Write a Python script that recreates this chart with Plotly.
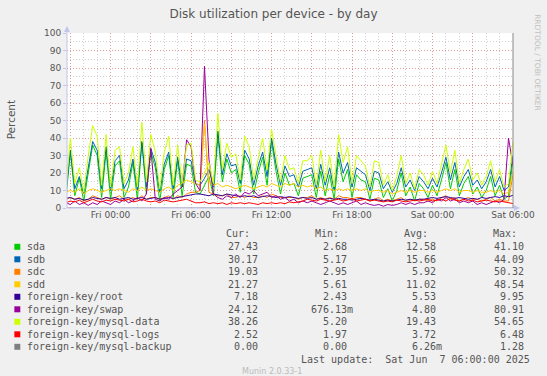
import plotly.graph_objects as go
import pandas as pd

# ---------------- data (20-minute samples, Thu 20:40 -> Sat 06:00) ----------------
times = pd.date_range("2025-06-05 20:40", periods=101, freq="20min")

sda = [5, 32, 7, 17, 4, 20, 36, 30, 6, 32,
       5, 24, 27, 6, 12, 26, 5, 37, 8, 32,
       23, 4, 22, 30, 6, 27, 7, 25, 24, 9,
       8, 13, 18, 7, 41, 15, 28, 20, 22, 9,
       30, 25, 8, 20, 29, 13, 38, 21, 8, 20,
       13, 14, 7, 17, 18, 19, 6, 21, 7, 19,
       5, 28, 15, 22, 6, 19, 16, 15, 5, 17,
       16, 6, 11, 4, 10, 20, 7, 12, 4, 14,
       11, 6, 13, 7, 16, 26, 11, 22, 7, 14,
       18, 8, 12, 6, 10, 18, 7, 13, 5, 7,
       27.43]
sdb = [9, 33, 11, 18, 8, 24, 38, 33, 11, 35,
       10, 27, 30, 11, 16, 28, 10, 38, 12, 34,
       26, 9, 25, 32, 11, 29, 12, 28, 27, 14,
       13, 17, 22, 12, 44, 19, 31, 24, 25, 14,
       33, 28, 13, 24, 32, 18, 40, 25, 13, 24,
       18, 19, 12, 21, 22, 23, 11, 25, 13, 23,
       10, 32, 20, 26, 12, 23, 21, 19, 10, 21,
       20, 11, 15, 9, 14, 23, 12, 16, 10, 18,
       15, 11, 17, 12, 20, 29, 16, 26, 12, 18,
       22, 13, 16, 11, 15, 22, 12, 18, 10, 12,
       30.17]
sdc = [5, 6, 5, 6, 4, 5, 7, 6, 5, 6,
       5, 6, 7, 5, 5, 6, 5, 7, 5, 6,
       6, 5, 6, 7, 5, 7, 6, 8, 9, 9,
       10, 50, 9, 8, 7, 7, 8, 6, 6, 7,
       6, 7, 6, 6, 7, 6, 8, 7, 6, 6,
       6, 6, 5, 6, 6, 7, 5, 6, 5, 6,
       5, 7, 6, 6, 5, 6, 6, 5, 4, 5,
       6, 4, 5, 4, 5, 6, 4, 5, 4, 5,
       5, 4, 5, 4, 6, 7, 5, 6, 4, 5,
       6, 5, 5, 4, 5, 6, 4, 5, 4, 4,
       19.03]
sdd = [9, 10, 9, 11, 8, 10, 11, 10, 9, 10,
       11, 10, 11, 10, 9, 11, 10, 12, 10, 11,
       10, 9, 11, 12, 10, 13, 14, 16, 15, 14,
       13, 48, 15, 13, 14, 12, 13, 12, 11, 12,
       13, 12, 11, 12, 13, 12, 14, 13, 12, 14,
       13, 14, 12, 13, 12, 13, 11, 12, 10, 11,
       10, 11, 10, 11, 10, 11, 10, 11, 9, 10,
       10, 9, 10, 8, 9, 10, 9, 10, 9, 10,
       10, 9, 10, 9, 10, 11, 10, 11, 9, 10,
       10, 9, 10, 9, 9, 10, 9, 10, 8, 9,
       21.27]
root = [5.5, 6, 5, 5.5, 4.5, 5, 6, 5.5, 5, 6,
        5.5, 6, 5, 5.5, 6, 5, 5.5, 6, 5, 5.5,
        6, 5, 5.5, 6, 5.5, 6, 6.5, 7, 7.5, 8,
        8, 7.5, 7, 8, 7.5, 7, 8, 7.5, 7, 6.5,
        7, 6.5, 7, 6, 6.5, 7, 6.5, 6, 6.5, 6,
        6.5, 6, 5.5, 6, 5.5, 6, 5, 5.5, 5, 5.5,
        5, 5.5, 5, 5, 4.5, 5, 5.5, 5, 4.5, 5,
        4.5, 4, 4.5, 4, 4.5, 5, 4.5, 5, 4.5, 5,
        5, 5.5, 6, 5.5, 6, 6.5, 6, 5.5, 6, 5.5,
        5, 5.5, 5, 6, 5.5, 6, 6.5, 6, 7, 6.5,
        7.18]
swap = [3, 2, 4, 2, 3, 1.5, 3, 2, 4, 3,
        2, 4, 3, 5, 3, 4, 6, 4, 8, 34,
        5, 4, 6, 5, 8, 10, 12, 39, 35, 14,
        10, 81, 28, 8, 6, 5, 7, 6, 8, 6,
        9, 8, 10, 7, 8, 9, 6, 7, 5, 6,
        4, 5, 3, 4, 3, 4, 3, 2, 3, 4,
        3, 2, 3, 2, 3, 4, 2, 3, 2, 1.5,
        2, 1, 2, 1.5, 2, 3, 2, 3, 2, 3,
        3, 4, 3, 5, 4, 6, 4, 5, 3, 4,
        3, 4, 2, 3, 2, 3, 4, 3, 5, 40,
        24.12]
mysql_data = [10, 40, 14, 23, 9, 30, 47, 41, 13, 42,
              12, 33, 35, 14, 20, 35, 12, 49, 15, 42,
              32, 11, 32, 41, 13, 36, 14, 36, 37, 16,
              15, 20, 26, 14, 54, 22, 37, 29, 31, 16,
              41, 35, 16, 29, 40, 22, 45, 30, 15, 30,
              22, 23, 14, 27, 27, 30, 13, 33, 15, 30,
              12, 42, 26, 35, 14, 30, 27, 24, 12, 27,
              26, 13, 19, 10, 18, 30, 14, 20, 11, 22,
              19, 13, 21, 14, 25, 36, 20, 33, 14, 22,
              28, 16, 20, 13, 18, 27, 15, 22, 12, 14,
              38.26]
mysql_logs = [3, 4, 3.5, 4.5, 3, 4, 5, 4, 3.5, 4.5,
              4, 5, 4.5, 4, 5, 3.5, 4, 5, 4, 3.5,
              4, 3, 4.5, 4, 3.5, 4, 4.5, 5, 4, 3,
              3, 3.5, 2.5, 3, 2.5, 3, 2, 3, 2.5, 3,
              2.5, 3, 2.5, 2, 3, 2.5, 3, 2.5, 3, 2.5,
              3.5, 3, 3.5, 4, 5, 4.5, 4, 5, 4.5, 4,
              4.5, 5, 4, 4.5, 5.5, 4, 4.5, 5, 4, 4.5,
              4, 3.5, 4, 3.5, 4.5, 4, 3.5, 4, 4.5, 4,
              4.5, 5, 4, 4.5, 5, 4, 5.5, 4.5, 4, 5,
              4, 4.5, 3.5, 4, 4.5, 4, 3.5, 4, 3.5, 3,
              2.52]
mysql_backup = [0, 0, 0, 0, 0, 0, 0, 0, 0, 0,
                0, 0, 0, 0, 0, 0, 0, 0, 0, 0,
                0, 0, 0, 0, 0, 0, 0, 0, 0, 0,
                0, 0, 0, 0, 0, 0, 0, 0, 0, 0,
                0, 0, 0, 0, 0, 0, 0, 0, 0, 0,
                0, 0, 0, 0, 0, 0, 0, 0, 0, 0,
                0, 0, 0, 0, 0, 0, 0, 0, 0, 0,
                0, 0, 0, 0, 0, 0, 0, 0, 0, 0,
                0, 0, 0, 0, 0, 0, 0, 0, 0, 0,
                0, 0, 0, 0, 0, 0, 0, 0, 0, 0,
                0]

names = ["sda", "sdb", "sdc", "sdd", "foreign-key/root", "foreign-key/swap",
         "foreign-key/mysql-data", "foreign-key/mysql-logs", "foreign-key/mysql-backup"]
colors = ["#00CC00", "#0066B3", "#FF8000", "#FFCC00", "#330099", "#990099",
          "#CCFF00", "#FF0000", "#808080"]
values = [sda, sdb, sdc, sdd, root, swap, mysql_data, mysql_logs, mysql_backup]

cur_vals = ["27.43", "30.17", "19.03", "21.27", "7.18", "24.12", "38.26", "2.52", "0.00"]
min_vals = ["2.68", "5.17", "2.95", "5.61", "2.43", "676.13m", "5.20", "1.97", "0.00"]
avg_vals = ["12.58", "15.66", "5.92", "11.02", "5.53", "4.80", "19.43", "3.72", "6.26m"]
max_vals = ["41.10", "44.09", "50.32", "48.54", "9.95", "80.91", "54.65", "6.48", "1.28"]

y_ticks = [0, 10, 20, 30, 40, 50, 60, 70, 80, 90, 100]

# ---------------- figure ----------------
W, H = 547, 376
L, R, T, B = 67, 516, 33, 208


def px(x):
    return (x - L) / (R - L)


def py(y):
    return (B - y) / (B - T)


fig = go.Figure()
for name, vals, col in zip(names, values, colors):
    fig.add_trace(go.Scatter(x=times, y=vals, mode="lines", name=name,
                             line=dict(color=col, width=1), showlegend=False,
                             hoverinfo="skip"))

major_x = pd.date_range("2025-06-05 21:00", "2025-06-07 06:00", freq="3h")
major_txt = [t.strftime("%a %H:%M") if t.hour % 6 == 0 else "" for t in major_x]

RED = "rgba(255,40,40,0.32)"
GRY = "rgba(110,110,110,0.32)"
DOT = "1px,2px"
TXT = "#555555"
AXC = "#C4C4EE"

fig.update_layout(
    width=W, height=H,
    margin=dict(l=L, r=W - R, t=T, b=H - B, pad=0),
    paper_bgcolor="#F0F0F0", plot_bgcolor="#FFFFFF",
    font=dict(family="DejaVu Sans", color=TXT, size=9),
    title=dict(text="Disk utilization per device - by day", x=0.5, xanchor="center",
               y=1 - 14 / H, yanchor="middle",
               font=dict(family="DejaVu Sans", size=12, color=TXT)),
    xaxis=dict(range=["2025-06-05 20:45", "2025-06-07 06:00"],
               tickmode="array", tickvals=major_x, ticktext=major_txt,
               showgrid=True, gridcolor=RED, griddash=DOT, gridwidth=1,
               minor=dict(dtick=3600000, tick0="2025-06-05 21:00", showgrid=True,
                          gridcolor=GRY, griddash=DOT, gridwidth=1),
               ticks="", showline=False, zeroline=False,
               tickfont=dict(size=9, color=TXT, family="DejaVu Sans")),
    yaxis=dict(range=[0, 100], tickmode="array", tickvals=y_ticks,
               showgrid=True, gridcolor=RED, griddash=DOT, gridwidth=1,
               minor=dict(dtick=5, tick0=0, showgrid=True, gridcolor=GRY,
                          griddash=DOT, gridwidth=1),
               ticks="outside", ticklen=3, tickcolor=AXC,
               showline=False, zeroline=False,
               tickfont=dict(size=9, color=TXT, family="DejaVu Sans")),
)

shapes = []
# axes with arrows
shapes.append(dict(type="line", xref="paper", yref="paper", x0=0, x1=0,
                   y0=py(B), y1=py(T - 4), line=dict(color=AXC, width=1)))
shapes.append(dict(type="path", xref="paper", yref="paper",
                   path=f"M {px(L-3)} {py(T-1)} L {px(L+3)} {py(T-1)} L {px(L)} {py(T-7)} Z",
                   fillcolor=AXC, line=dict(width=0)))
shapes.append(dict(type="line", xref="paper", yref="paper", x0=0, x1=px(R + 4),
                   y0=0, y1=0, line=dict(color=AXC, width=1)))
shapes.append(dict(type="path", xref="paper", yref="paper",
                   path=f"M {px(R+1)} {py(B-3)} L {px(R+1)} {py(B+3)} L {px(R+7)} {py(B)} Z",
                   fillcolor=AXC, line=dict(width=0)))
shapes.append(dict(type="line", xref="paper", yref="paper", x0=1, x1=1,
                   y0=0, y1=1, line=dict(color="#888888", width=1)))

annotations = []


def ann(text, x, y, xanchor="left", size=10, color=TXT, family="DejaVu Sans Mono", angle=0):
    annotations.append(dict(text=text, x=px(x), y=py(y), xref="paper", yref="paper",
                            xanchor=xanchor, yanchor="middle", showarrow=False,
                            textangle=angle, borderpad=0, borderwidth=0,
                            font=dict(family=family, size=size, color=color)))


ann("Percent", 11, 119, xanchor="center", size=10.5, family="DejaVu Sans", angle=-90)
ann("RRDTOOL / TOBI OETIKER", 540, 63, xanchor="center", size=7.5,
    family="DejaVu Sans", color="#C0C0C0", angle=90)

# legend table
ann("Cur:", 251, 233.7, xanchor="right")
ann("Min:", 341, 233.7, xanchor="right")
ann("Avg:", 430.6, 233.7, xanchor="right")
ann("Max:", 520, 233.7, xanchor="right")

row0, dy = 246.8, 12.5
for k, (name, col) in enumerate(zip(names, colors)):
    yc = row0 + k * dy
    shapes.append(dict(type="rect", xref="paper", yref="paper",
                       x0=px(14), x1=px(20), y0=py(yc + 3), y1=py(yc - 3),
                       fillcolor=col, line=dict(width=0)))
    ann(name, 26.5, yc)
    for vals, xr in ((cur_vals, 259), (min_vals, 349), (avg_vals, 438.6), (max_vals, 527)):
        v = vals[k]
        ann(v, xr + (6 if v.endswith("m") else 0), yc, xanchor="right")

ann("Last update:\u00a0\u00a0Sat Jun\u00a0\u00a07 06:00:00 2025", 533, 359.5, xanchor="right")
ann("Munin 2.0.33-1", 273.6, 371.7, xanchor="center", size=8,
    family="DejaVu Sans", color="#BBBBBB")

fig.update_layout(shapes=shapes, annotations=annotations)

fig.write_html("out.html")
